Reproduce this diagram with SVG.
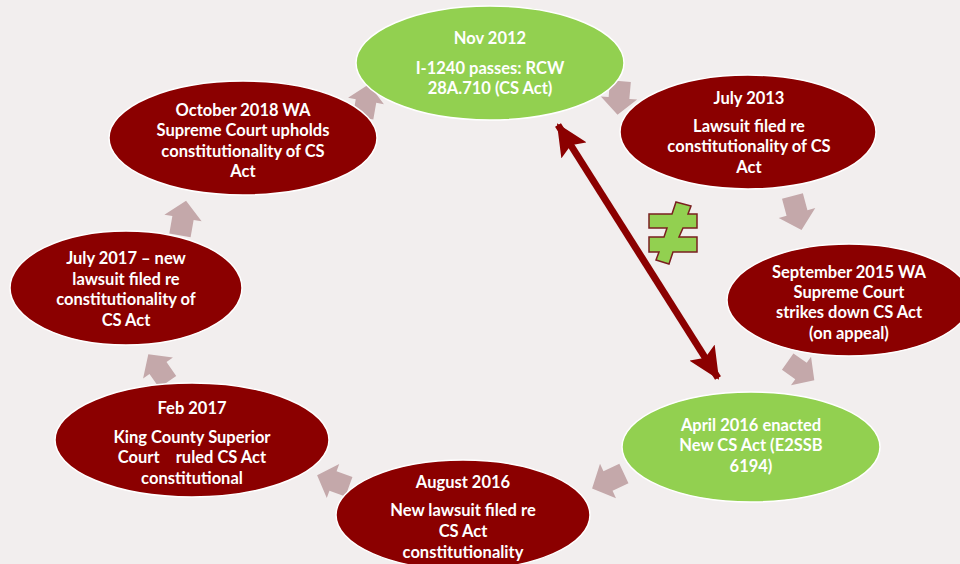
<svg xmlns="http://www.w3.org/2000/svg" width="960" height="564" viewBox="0 0 960 564">
<defs>
<style>
.red{fill:#8b0000;stroke:#ffffff;stroke-width:1.5}
.grn{fill:#92d050;stroke:#ffffff;stroke-width:1.5}
.t{font-family:Lato,"Open Sans","Liberation Sans",sans-serif;font-weight:bold;font-size:16.5px;fill:#ffffff;text-anchor:middle}
.ca{fill:#c4a8aa}
</style>
<path id="blk" d="M-13,-8 L0,-8 L0,-14 L13,0 L0,14 L0,8 L-13,8 Z"/>
<marker id="ah" viewBox="0 0 32 30" refX="30" refY="15" markerWidth="32" markerHeight="30" markerUnits="userSpaceOnUse" orient="auto-start-reverse">
<path d="M0,0 L32,15 L0,30 L6,15 Z" fill="#8b0000"/>
</marker>
</defs>
<rect width="960" height="564" fill="#f2eeee"/>
<g id="connectors">
<use href="#blk" class="ca" transform="translate(619,98) rotate(95) scale(1.3)"/>
<use href="#blk" class="ca" transform="translate(797,213) rotate(75) scale(1.35)"/>
<use href="#blk" class="ca" transform="translate(801,371) rotate(35) scale(1.25)"/>
<use href="#blk" class="ca" transform="translate(608,481) rotate(155) scale(1.35)"/>
<use href="#blk" class="ca" transform="translate(333,481) rotate(200) scale(1.3)"/>
<use href="#blk" class="ca" transform="translate(158,368) rotate(235) scale(1.3)"/>
<use href="#blk" class="ca" transform="translate(183,218) rotate(-80) scale(1.35)"/>
<use href="#blk" class="ca" transform="translate(366,101) rotate(-80) scale(1.3)"/>
<line x1="558" y1="125" x2="718" y2="378" stroke="#8b0000" stroke-width="7" marker-start="url(#ah)" marker-end="url(#ah)"/>
</g>
<g id="n1"><ellipse class="grn" cx="490" cy="63" rx="134" ry="57"/>
<text class="t" x="490" y="44">Nov 2012</text>
<text class="t" x="490" y="74">I-1240 passes: RCW</text>
<text class="t" x="490" y="94">28A.710 (CS Act)</text></g>
<g id="n2"><ellipse class="red" cx="748" cy="132" rx="128" ry="57"/>
<text class="t" x="749" y="104">July 2013</text>
<text class="t" x="749" y="132">Lawsuit filed re</text>
<text class="t" x="749" y="152">constitutionality of CS</text>
<text class="t" x="749" y="173">Act</text></g>
<g id="n3"><ellipse class="red" cx="849" cy="300" rx="122" ry="56"/>
<text class="t" x="849" y="278">September 2015 WA</text>
<text class="t" x="849" y="298">Supreme Court</text>
<text class="t" x="849" y="318">strikes down CS Act</text>
<text class="t" x="849" y="339">(on appeal)</text></g>
<g id="n4"><ellipse class="grn" cx="751" cy="447" rx="129" ry="55"/>
<text class="t" x="751" y="431">April 2016 enacted</text>
<text class="t" x="751" y="451">New CS Act (E2SSB</text>
<text class="t" x="751" y="472">6194)</text></g>
<g id="n5"><ellipse class="red" cx="463" cy="515" rx="127" ry="55"/>
<text class="t" x="463" y="488">August 2016</text>
<text class="t" x="463" y="516">New lawsuit filed re</text>
<text class="t" x="463" y="537">CS Act</text>
<text class="t" x="463" y="558">constitutionality</text></g>
<g id="n6"><ellipse class="red" cx="192" cy="440" rx="137" ry="57"/>
<text class="t" x="192" y="414">Feb 2017</text>
<text class="t" x="192" y="443">King County Superior</text>
<text class="t" x="192" y="463" xml:space="preserve">Court    ruled CS Act</text>
<text class="t" x="192" y="484">constitutional</text></g>
<g id="n7"><ellipse class="red" cx="126" cy="288" rx="116" ry="57"/>
<text class="t" x="126" y="264">July 2017 – new</text>
<text class="t" x="126" y="285">lawsuit filed re</text>
<text class="t" x="126" y="305">constitutionality of</text>
<text class="t" x="126" y="326">CS Act</text></g>
<g id="n8"><ellipse class="red" cx="243" cy="138" rx="134" ry="57"/>
<text class="t" x="243" y="116">October 2018 WA</text>
<text class="t" x="243" y="136">Supreme Court upholds</text>
<text class="t" x="243" y="157">constitutionality of CS</text>
<text class="t" x="243" y="177">Act</text></g>
<g id="neq"><polygon points="676,202 691,206 688,214 697,214 697,228 683,228 679,237 697,237 697,252 673,252 669,264 656,260 659,252 649,252 649,237 664,237 667,228 649,228 649,214 672,214" fill="#92d050" stroke="#7a1f1f" stroke-width="1.5"/></g>
</svg>
